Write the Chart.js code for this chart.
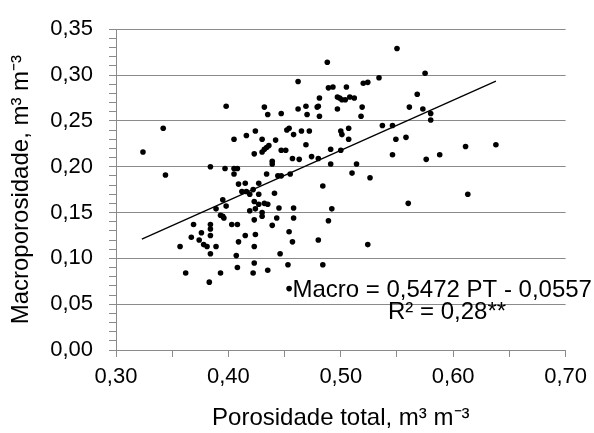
<!DOCTYPE html>
<html>
<head>
<meta charset="utf-8">
<script src="https://cdn.jsdelivr.net/npm/chart.js@4.4.1/dist/chart.umd.min.js"></script>
<style>
  html, body { margin: 0; padding: 0; background: #fff; }
  #wrap { width: 594px; height: 433px; }
</style>
</head>
<body>
<div id="wrap"><canvas id="chart" width="594" height="433"></canvas></div>
<script>
/* Macroporosidade vs porosidade total, m3 m-3 */

const porosidadeTotal = [
  0.398, 0.432, 0.435, 0.342, 0.405, 0.416, 0.424, 0.430, 0.324, 0.423, 0.430, 0.432,
  0.434, 0.436, 0.384, 0.397, 0.405, 0.408, 0.405, 0.344, 0.434, 0.409, 0.415, 0.427,

  0.412, 0.416, 0.419, 0.422, 0.427, 0.395, 0.398, 0.389, 0.423, 0.427, 0.432, 0.435,
  0.419, 0.424, 0.430, 0.430, 0.423, 0.393, 0.396, 0.395, 0.403, 0.408, 0.369, 0.384,
  0.384, 0.376, 0.384, 0.367, 0.374, 0.378, 0.381, 0.357, 0.389, 0.384, 0.415, 0.409,
  0.424, 0.423, 0.407, 0.423, 0.408, 0.422, 0.435, 0.362, 0.393, 0.383,

  0.550, 0.488, 0.462, 0.489, 0.493, 0.505, 0.520, 0.524, 0.534, 0.568,
  0.497, 0.499, 0.501, 0.504, 0.508, 0.512, 0.481, 0.447, 0.462, 0.469,
  0.470, 0.479, 0.480, 0.481, 0.497, 0.519, 0.518, 0.561, 0.537, 0.546,
  0.452, 0.454, 0.458, 0.465, 0.472, 0.500, 0.501, 0.507, 0.507, 0.549,
  0.558, 0.442, 0.469, 0.447, 0.451, 0.491, 0.500, 0.457, 0.463, 0.474,
  0.480, 0.439, 0.439, 0.491, 0.514, 0.546, 0.444, 0.447, 0.455, 0.510,
  0.526, 0.484,

  0.441, 0.445, 0.458, 0.492, 0.560, 0.443, 0.458, 0.489, 0.439, 0.454,
  0.457, 0.480, 0.524, 0.446, 0.453, 0.484, 0.454,

  0.575, 0.573, 0.580, 0.580, 0.611, 0.638, 0.576, 0.588, 0.613
];

const macroporosidade = [
  0.266, 0.265, 0.257, 0.242, 0.230, 0.234, 0.239, 0.230, 0.216, 0.214, 0.216, 0.219,
  0.221, 0.223, 0.200, 0.198, 0.198, 0.198, 0.192, 0.191, 0.192, 0.181, 0.182, 0.182,

  0.173, 0.173, 0.170, 0.175, 0.170, 0.164, 0.157, 0.154, 0.162, 0.159, 0.160, 0.159,
  0.152, 0.154, 0.150, 0.146, 0.142, 0.147, 0.144, 0.146, 0.137, 0.137, 0.137, 0.137,
  0.132, 0.128, 0.125, 0.123, 0.120, 0.115, 0.113, 0.113, 0.113, 0.105, 0.125, 0.118,
  0.126, 0.113, 0.103, 0.095, 0.090, 0.084, 0.087, 0.084, 0.084, 0.074,

  0.329, 0.314, 0.293, 0.286, 0.287, 0.287, 0.291, 0.292, 0.297, 0.279,
  0.276, 0.275, 0.273, 0.273, 0.276, 0.275, 0.275, 0.258, 0.263, 0.266,
  0.257, 0.265, 0.266, 0.255, 0.263, 0.265, 0.255, 0.265, 0.245, 0.245,
  0.240, 0.242, 0.235, 0.239, 0.239, 0.239, 0.235, 0.242, 0.230, 0.230,
  0.232, 0.229, 0.224, 0.218, 0.218, 0.219, 0.218, 0.209, 0.208, 0.211,
  0.209, 0.206, 0.203, 0.203, 0.203, 0.213, 0.190, 0.190, 0.192, 0.193,
  0.188, 0.179,

  0.171, 0.155, 0.155, 0.154, 0.160, 0.144, 0.144, 0.141, 0.136, 0.129,
  0.118, 0.120, 0.115, 0.105, 0.093, 0.093, 0.067,

  0.302, 0.263, 0.258, 0.251, 0.222, 0.224, 0.208, 0.213, 0.170
];

// linear fit shown in the chart: Macro = 0,5472 PT - 0,0557
const fitSlope = 0.5472;
const fitIntercept = -0.0557;
const fitRange = [0.323, 0.638];
const fitText = 'Macro = 0,5472 PT - 0,0557';
const r2Text = 'R² = 0,28**';

const xTitle = 'Porosidade total, m³ m⁻³';
const yTitle = 'Macroporosidade, m³ m⁻³';

const points = porosidadeTotal.map((x, i) => ({ x, y: macroporosidade[i] }));
const fitLine = fitRange.map(x => ({ x, y: fitSlope * x + fitIntercept }));

const GRID = '#8a8a8a';
const fmt = v => v.toFixed(2).replace('.', ',');
const isMajorX = v => Math.round(v * 100) % 10 === 0;
const isMajorY = v => Math.round(v * 100) % 5 === 0;

Chart.defaults.font.family = '"Liberation Sans", Arial, sans-serif';
Chart.defaults.color = '#000';

const equationLabel = {
  id: 'equationLabel',
  afterDatasetsDraw(chart) {
    const { ctx, scales: { x, y } } = chart;
    ctx.save();
    ctx.fillStyle = '#000';
    ctx.font = '24px "Liberation Sans", Arial, sans-serif';
    ctx.textBaseline = 'alphabetic';
    ctx.textAlign = 'left';
    ctx.fillText(fitText, x.getPixelForValue(0.457), y.getPixelForValue(0.058));
    ctx.fillText(r2Text, x.getPixelForValue(0.542), y.getPixelForValue(0.034));
    ctx.restore();
  }
};

new Chart(document.getElementById('chart'), {
  type: 'scatter',
  data: {
    datasets: [
      {
        type: 'line',
        data: fitLine,
        borderColor: '#000',
        borderWidth: 1.3,
        pointRadius: 0,
        fill: false,
        order: 1
      },
      {
        type: 'scatter',
        data: points,
        pointRadius: 2.8,
        pointBackgroundColor: '#000',
        pointBorderWidth: 0,
        order: 2
      }
    ]
  },
  options: {
    responsive: false,
    animation: false,
    layout: { padding: { left: 0, right: 28, top: 24, bottom: 0 } },
    plugins: { legend: { display: false }, tooltip: { enabled: false } },
    scales: {
      x: {
        type: 'linear',
        min: 0.3, max: 0.7,
        afterFit(s) { s.height = 83; },
        ticks: {
          stepSize: 0.05, autoSkip: false, maxRotation: 0, padding: 7,
          font: { size: 22 },
          callback: v => isMajorX(v) ? fmt(v) : ''
        },
        grid: { drawOnChartArea: false, tickLength: 7, color: GRID, tickColor: GRID },
        border: { color: GRID, width: 1 },
        title: { display: true, text: xTitle, font: { size: 24 }, padding: { top: 0, bottom: 0 } }
      },
      y: {
        min: 0, max: 0.35,
        afterFit(s) { s.width = 116; },
        ticks: {
          stepSize: 0.01, autoSkip: false, padding: 16,
          font: { size: 22 },
          callback: v => isMajorY(v) ? fmt(v) : ''
        },
        grid: {
          tickLength: 7,
          color: c => isMajorY(c.tick.value) ? GRID : 'rgba(0,0,0,0)',
          tickColor: GRID
        },
        border: { color: GRID, width: 1 },
        title: { display: true, text: yTitle, font: { size: 24 }, padding: { top: 7, bottom: 0 } }
      }
    }
  },
  plugins: [equationLabel]
});
</script>
</body>
</html>
